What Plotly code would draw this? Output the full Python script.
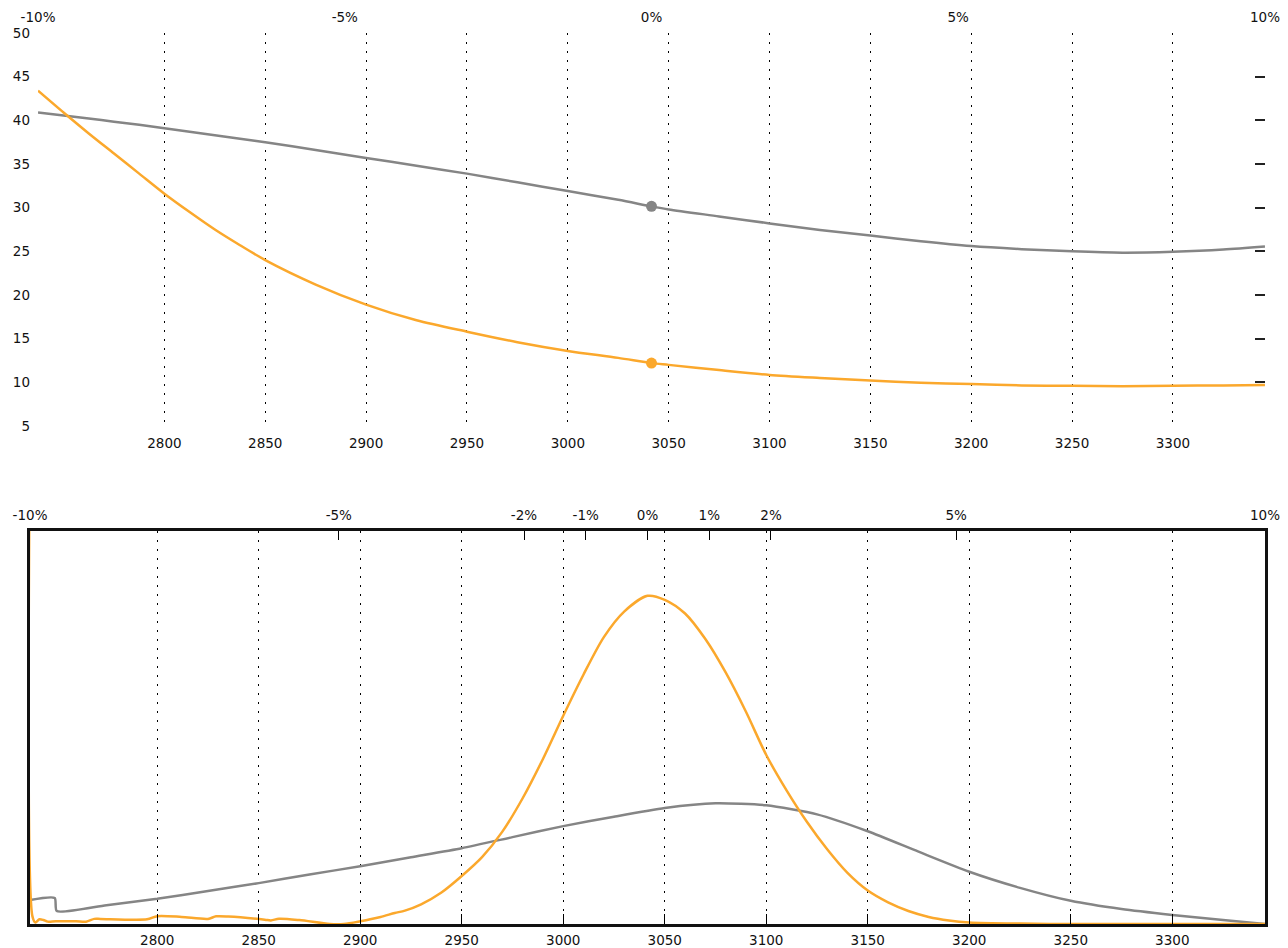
import plotly.graph_objects as go

spot = 3041.5
x_lo, x_hi = spot * 0.9, spot * 1.1

strike_ticks = [2800, 2850, 2900, 2950, 3000, 3050, 3100, 3150, 3200, 3250, 3300]
pct_top = [-10, -5, 0, 5, 10]
pct_bottom = [-10, -5, -2, -1, 0, 1, 2, 5, 10]
vol_ticks = [5, 10, 15, 20, 25, 30, 35, 40, 45, 50]

# top panel: volatility curves
top_strikes = [2737.35, 2750, 2762.5, 2775, 2787.5, 2800, 2812.5, 2825, 2837.5, 2850, 2875,
               2900, 2925, 2950, 2975, 3000, 3025, 3041.5, 3050, 3075, 3100, 3125,
               3150, 3175, 3200, 3225, 3250, 3275, 3300, 3325, 3345.65]
gray_vol = [40.9, 40.55, 40.2, 39.85, 39.5, 39.1, 38.7, 38.3, 37.9, 37.5, 36.6,
            35.7, 34.8, 33.9, 32.9, 31.9, 30.9, 30.15, 29.8, 29.0, 28.2, 27.45,
            26.8, 26.15, 25.6, 25.25, 25.0, 24.85, 24.95, 25.2, 25.55]
orange_vol = [43.4, 40.9, 38.5, 36.2, 33.9, 31.6, 29.5, 27.5, 25.7, 24.0, 21.2,
              18.9, 17.1, 15.8, 14.6, 13.6, 12.8, 12.2, 12.0, 11.4, 10.85, 10.5,
              10.2, 9.95, 9.8, 9.65, 9.6, 9.55, 9.6, 9.65, 9.7]
spot_gray_vol = 30.15
spot_orange_vol = 12.2

# bottom panel: densities (normalised to panel height)
orange_strikes = [2737.35, 2738.5, 2740, 2742, 2744, 2746, 2750, 2760, 2765, 2769, 2772,
                  2795, 2800, 2812, 2825, 2829, 2835, 2853, 2856, 2860, 2870, 2885,
                  2892, 2900, 2910, 2917, 2922, 2930, 2940, 2950, 2960, 2970, 2980,
                  2990, 3000, 3010, 3020, 3030, 3041.5, 3050, 3060, 3070,
                  3080, 3090, 3100, 3110, 3120, 3130, 3140, 3150, 3160, 3170, 3180,
                  3190, 3200, 3225, 3250, 3300, 3345.65]
orange_dens = [1.3, 0.02, 0.004, 0.012, 0.01, 0.006, 0.007, 0.007, 0.006, 0.013, 0.013,
               0.012, 0.02, 0.018, 0.013, 0.0195, 0.019, 0.011, 0.009, 0.0135, 0.01, 0.0,
               0.0, 0.007, 0.018, 0.028, 0.034, 0.05, 0.08, 0.122, 0.17, 0.235, 0.32,
               0.42, 0.53, 0.635, 0.73, 0.795, 0.835, 0.825, 0.79, 0.725,
               0.64, 0.54, 0.43, 0.34, 0.26, 0.19, 0.13, 0.085, 0.055, 0.033, 0.018,
               0.009, 0.004, 0.001, 0.0, 0.0, 0.0]
gray_strikes = [2737.35, 2749.5, 2750.5, 2775, 2800, 2825, 2850, 2875, 2900, 2925, 2950,
                2975, 3000, 3025, 3050, 3075, 3100, 3125, 3150, 3175, 3200,
                3225, 3250, 3275, 3300, 3325, 3345.65]
gray_dens = [0.061, 0.066, 0.033, 0.048, 0.064, 0.084, 0.104, 0.126, 0.147, 0.170, 0.193,
             0.221, 0.249, 0.273, 0.295, 0.307, 0.302, 0.279, 0.236, 0.184, 0.133,
             0.092, 0.059, 0.038, 0.023, 0.01, 0.0]

ORANGE = "#FBA82C"
GRAY = "#858585"
W, H = 1280, 940  # page body adds an 8px offset
FONT = dict(family="DejaVu Sans", size=13.5, color="#111")
GRID = "2px,7px"

fig = go.Figure()
fig.add_trace(go.Scatter(x=top_strikes, y=gray_vol, mode="lines",
                         line=dict(color=GRAY, width=2.5, shape="spline", smoothing=0.8),
                         xaxis="x", yaxis="y", showlegend=False))
fig.add_trace(go.Scatter(x=top_strikes, y=orange_vol, mode="lines",
                         line=dict(color=ORANGE, width=2.5, shape="spline", smoothing=0.8),
                         xaxis="x", yaxis="y", showlegend=False))
fig.add_trace(go.Scatter(x=[spot, spot], y=[spot_gray_vol, spot_orange_vol], mode="markers",
                         marker=dict(color=[GRAY, ORANGE], size=11), xaxis="x3", yaxis="y3",
                         showlegend=False))
fig.add_trace(go.Scatter(x=gray_strikes, y=gray_dens, mode="lines",
                         line=dict(color=GRAY, width=2.5, shape="spline", smoothing=0.6),
                         xaxis="x2", yaxis="y2", showlegend=False))
fig.add_trace(go.Scatter(x=orange_strikes, y=orange_dens, mode="lines",
                         line=dict(color=ORANGE, width=2.5, shape="spline", smoothing=0.8),
                         xaxis="x4", yaxis="y2", showlegend=False))

rng = [x_lo - 0.02, x_hi + 0.02]
top_dom = [(H - 418) / H, (H - 25) / H]
bot_dom = [(H - 916) / H, (H - 523) / H]

fig.update_layout(
    width=W, height=H, margin=dict(l=0, r=0, t=0, b=0),
    paper_bgcolor="white", plot_bgcolor="white", font=FONT,
    xaxis=dict(domain=[30 / W, 1257 / W], anchor="y", range=rng, tickvals=strike_ticks,
               ticks="", showline=False, zeroline=False, showgrid=True, gridcolor="#000",
               gridwidth=1, griddash=GRID, automargin=False, tickfont=FONT, ticklabelstandoff=7),
    xaxis3=dict(overlaying="x", side="top", anchor="y", range=rng,
                tickvals=[spot * (1 + p / 100) for p in pct_top],
                ticktext=[f"{p}%" for p in pct_top], ticks="", showline=False, zeroline=False,
                showgrid=False, automargin=False, tickfont=FONT, ticklabelstandoff=7),
    yaxis=dict(domain=top_dom, anchor="x", range=[5, 50], tickvals=vol_ticks, ticks="",
               showline=False, zeroline=False, showgrid=False, automargin=False, tickfont=FONT,
               ticklabelstandoff=7),
    yaxis3=dict(overlaying="y", side="right", anchor="x", range=[5, 50], tickvals=vol_ticks,
                ticks="inside", ticklen=10, tickwidth=1.5, tickcolor="#222", showticklabels=False,
                showline=False, zeroline=False, showgrid=False, automargin=False),
    xaxis2=dict(domain=[22 / W, 1257 / W], anchor="y2", range=rng, tickvals=strike_ticks,
                ticks="inside", ticklen=10, tickwidth=1.2, tickcolor="#000",
                showline=True, linecolor="#111", linewidth=2.5, mirror=True, zeroline=False,
                showgrid=True, gridcolor="#000", gridwidth=1, griddash=GRID, automargin=False,
                tickfont=FONT, ticklabelstandoff=2),
    xaxis4=dict(overlaying="x2", side="top", anchor="y2", range=rng,
                tickvals=[spot * (1 + p / 100) for p in pct_bottom],
                ticktext=[f"{p}%" for p in pct_bottom],
                ticks="inside", ticklen=9, tickwidth=1.2, tickcolor="#000", showline=False,
                zeroline=False, showgrid=False, automargin=False, tickfont=FONT,
                ticklabelstandoff=7),
    yaxis2=dict(domain=bot_dom, anchor="x2", range=[0, 1], showticklabels=False, ticks="",
                showline=True, linecolor="#111", linewidth=2.5, mirror=True, zeroline=False,
                showgrid=False, automargin=False),
)

fig.write_html("out.html")
